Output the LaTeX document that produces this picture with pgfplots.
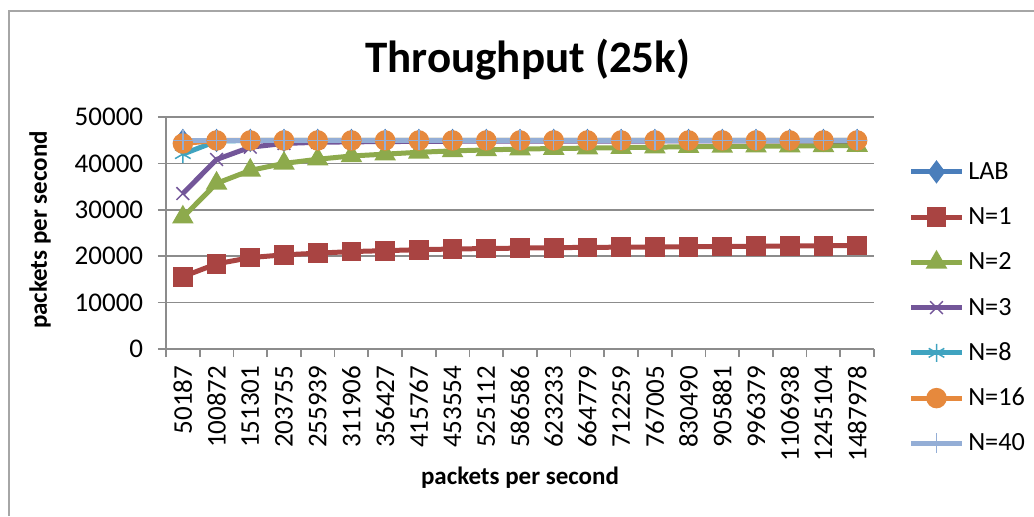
\documentclass[border=0pt]{standalone}
\usepackage{pgfplots}
\pgfplotsset{compat=1.18}
\usepackage{pgfplotstable}
\usepackage{fontspec}
\setmainfont{Carlito}
\definecolor{cLAB}{HTML}{4A7EBB}
\definecolor{cN1}{HTML}{A94442}
\definecolor{cN2}{HTML}{8DAA4C}
\definecolor{cN3}{HTML}{735699}
\definecolor{cN8}{HTML}{3FA3C0}
\definecolor{cN16}{HTML}{E6893D}
\definecolor{cN40}{HTML}{94AED6}
\definecolor{gridgray}{HTML}{8C8C8C}

\pgfplotstableread{
x LAB N1 N2 N3 N8 N16 N40
0 44950 15600 28400 33500 42000 44300 44950
1 44950 18350 35700 40850 44800 44950 44950
2 44950 19700 38500 43500 44950 44950 44950
3 44950 20300 40000 44300 44950 44950 44950
4 44950 20650 40900 44550 44950 44950 44950
5 44950 21000 41600 44650 44950 44950 44950
6 44950 21200 42000 44700 44950 44950 44950
7 44950 21400 42400 44750 44950 44950 44950
8 44950 21550 42700 44780 44950 44950 44950
9 44950 21650 42900 44800 44950 44950 44950
10 44950 21750 43100 44800 44950 44950 44950
11 44950 21850 43200 44820 44950 44950 44950
12 44950 21900 43300 44820 44950 44950 44950
13 44950 21950 43400 44830 44950 44950 44950
14 44950 22000 43500 44830 44950 44950 44950
15 44950 22050 43600 44840 44950 44950 44950
16 44950 22100 43650 44840 44950 44950 44950
17 44950 22150 43700 44850 44950 44950 44950
18 44950 22200 43750 44850 44950 44950 44950
19 44950 22250 43800 44850 44950 44950 44950
20 44950 22300 43850 44850 44950 44950 44950
}\datatable

\begin{document}
\begin{tikzpicture}
\useasboundingbox (-66.4pt,-66.8pt) rectangle (347.2pt,139.6pt);
\draw[color=gray!70, line width=0.8pt] (-62.8pt,-66.8pt) -- (-62.8pt,135.2pt) -- (347.2pt,135.2pt);
\begin{axis}[
  at={(0,0)}, anchor=south west,
  scale only axis,
  width=283.2pt, height=92.8pt,
  xmin=-0.5, xmax=20.5,
  ymin=0, ymax=50000,
  axis x line*=bottom, axis y line*=left,
  axis line style={draw=gridgray, line width=0.7pt, -},
  ytick={0,10000,20000,30000,40000,50000},
  ymajorgrids,
  grid style={draw=gridgray, line width=0.7pt},
  tick align=outside,
  major tick length=3.2pt,
  y tick style={draw=gridgray, line width=0.7pt},
  xtick={0,...,20},
  x tick style={draw=none},
  xticklabels={50187,100872,151301,203755,255939,311906,356427,415767,453554,525112,586586,623233,664779,712259,767005,830490,905881,996379,1106938,1245104,1487978},
  extra x ticks={-0.5,0.5,...,20.5},
  extra x tick labels={},
  extra x tick style={grid=none, x tick style={draw=gridgray, line width=0.7pt}, major tick length=3.2pt, tick align=outside},
  xticklabel style={rotate=90, anchor=east, font=\fontsize{10.8}{12}\selectfont},
  yticklabel style={xshift=-2.4pt, font=\fontsize{10.8}{12}\selectfont},
  /pgf/number format/assume math mode=true,
  /pgf/number format/set thousands separator={},
  scaled y ticks=false,
  title={Throughput (25k)},
  title style={at={(axis description cs:0.511,1.181)}, anchor=center, font=\fontsize{18}{22}\selectfont\bfseries},
  xlabel={packets per second},
  xlabel style={at={(axis description cs:0.5,-0.556)}, anchor=center, font=\fontsize{10}{12}\selectfont\bfseries},
  ylabel={packets per second},
  ylabel style={at={(axis description cs:-0.178,0.513)}, anchor=center, rotate=0, font=\fontsize{10}{12}\selectfont\bfseries},
  legend style={at={(axis description cs:1.048,0.825)}, anchor=north west, draw=none, fill=none, inner sep=0pt, row sep=7.1pt,
    font=\fontsize{10.5}{12}\selectfont, nodes={inner sep=1.5pt, text height=7pt, text depth=1pt}},
  legend cell align=left,
  legend image code/.code={\draw[mark repeat=2,mark phase=2] plot coordinates {(0pt,0pt) (10.2pt,0pt) (20.4pt,0pt)};},
  every axis plot/.append style={line width=2pt, mark options={solid, line width=0.6pt}},
]
\addplot[color=cLAB, mark=diamond*, mark size=4.2pt] table[x=x,y=LAB] {\datatable};
\addlegendentry{LAB}
\addplot[color=cN1, mark=square*, mark size=3.65pt] table[x=x,y=N1] {\datatable};
\addlegendentry{N=1}
\addplot[color=cN2, mark=triangle*, mark size=4.4pt] table[x=x,y=N2] {\datatable};
\addlegendentry{N=2}
\addplot[color=cN3, mark=x, mark size=3.6pt] table[x=x,y=N3] {\datatable};
\addlegendentry{N=3}
\addplot[color=cN8, mark=asterisk, mark size=3.6pt] table[x=x,y=N8] {\datatable};
\addlegendentry{N=8}
\addplot[color=cN16, mark=*, mark size=3.8pt] table[x=x,y=N16] {\datatable};
\addlegendentry{N=16}
\addplot[color=cN40, mark=+, mark size=4pt] table[x=x,y=N40] {\datatable};
\addlegendentry{N=40}
\end{axis}
\end{tikzpicture}
\end{document}
